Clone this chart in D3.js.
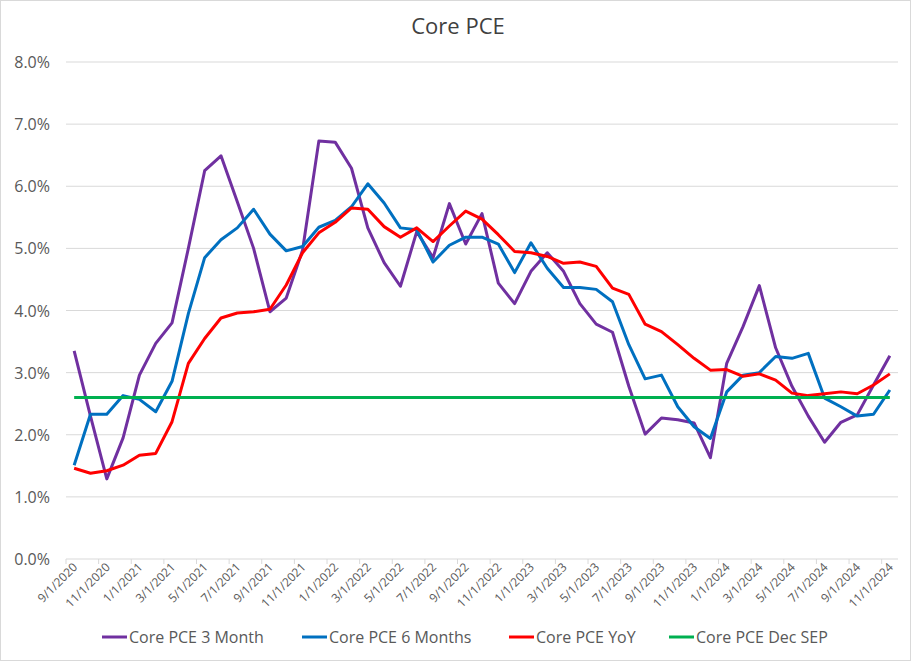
<!DOCTYPE html>
<html>
<head>
<meta charset="utf-8">
<script src="https://cdn.jsdelivr.net/npm/d3@7"></script>
<style>
  body { margin: 0; background: #fff; }
  text { font-family: "Open Sans", "Noto Sans", sans-serif; }
</style>
</head>
<body>
<svg width="912" height="662"></svg>
<script>
// monthly dates, 9/1/2020 .. 11/1/2024
const months = [];
for (let i = 0; i < 51; i++) {
    const m = (8 + i) % 12 + 1, yr = 2020 + Math.floor((8 + i) / 12);
    months.push(m + "/1/" + yr);
}

const pce3m = [3.35, 2.3, 1.29, 1.95, 2.96, 3.47, 3.80, 5.0, 6.25, 6.49,
    5.75, 5.0, 3.98, 4.2, 4.97, 6.73, 6.71, 6.29, 5.33, 4.77,
    4.39, 5.27, 4.85, 5.72, 5.07, 5.56, 4.44, 4.11, 4.63, 4.93,
    4.63, 4.11, 3.78, 3.65, 2.78, 2.01, 2.27, 2.24, 2.19, 1.63,
    3.15, 3.74, 4.40, 3.40, 2.78, 2.30, 1.88, 2.2, 2.32, 2.8, 3.27];

const pce6m = [1.51, 2.33, 2.33, 2.63, 2.57, 2.37, 2.86, 3.95, 4.85, 5.14,
    5.33, 5.63, 5.23, 4.96, 5.03, 5.34, 5.45, 5.67, 6.04, 5.73,
    5.33, 5.30, 4.78, 5.05, 5.18, 5.18, 5.07, 4.61, 5.09, 4.68,
    4.37, 4.37, 4.34, 4.14, 3.45, 2.90, 2.96, 2.45, 2.13, 1.94,
    2.69, 2.96, 3.0, 3.26, 3.23, 3.31, 2.59, 2.45, 2.30, 2.33, 2.72];

const pceYoY = [1.46, 1.38, 1.42, 1.51, 1.67, 1.70, 2.21, 3.15, 3.55, 3.88,
    3.96, 3.98, 4.02, 4.41, 4.93, 5.25, 5.42, 5.65, 5.63, 5.35,
    5.18, 5.33, 5.11, 5.36, 5.60, 5.47, 5.22, 4.95, 4.93, 4.87,
    4.76, 4.78, 4.71, 4.36, 4.26, 3.78, 3.66, 3.45, 3.23, 3.04,
    3.05, 2.94, 2.98, 2.88, 2.67, 2.63, 2.66, 2.69, 2.66, 2.80, 2.98];

const decSep = months.map(() => 2.6);

const yTicks = [0, 1, 2, 3, 4, 5, 6, 7, 8];

const series = [
    {name: "Core PCE 3 Month", values: pce3m, color: "#7030A0"},
    {name: "Core PCE 6 Months", values: pce6m, color: "#0070C0"},
    {name: "Core PCE YoY", values: pceYoY, color: "#FF0000"},
    {name: "Core PCE Dec SEP", values: decSep, color: "#00B050"}
];

const svg = d3.select("svg");
const W = 912, H = 662;
const plotL = 66, plotR = 898, plotT = 62, plotB = 559;

svg.append("rect")
    .attr("x", 0.5).attr("y", 0.5)
    .attr("width", W - 2).attr("height", H - 2)
    .attr("fill", "#fff").attr("stroke", "#d9d9d9");

const x = d3.scalePoint().domain(months).range([plotL, plotR]).padding(0.5);
const y = d3.scaleLinear().domain([0, 8]).range([plotB, plotT]);

// gridlines
svg.append("g")
    .selectAll("line")
    .data(yTicks.slice(1))
    .enter()
    .append("line")
    .attr("x1", plotL).attr("x2", plotR)
    .attr("y1", d => y(d)).attr("y2", d => y(d))
    .attr("stroke", "#d9d9d9").attr("stroke-width", 1);

// y labels
svg.append("g")
    .selectAll("text")
    .data(yTicks)
    .enter()
    .append("text")
    .attr("x", 50)
    .attr("y", d => y(d) + 6)
    .attr("text-anchor", "end")
    .attr("font-size", 16)
    .attr("fill", "#595959")
    .text(d => d.toFixed(1) + "%");

// x axis line and ticks
svg.append("line")
    .attr("x1", plotL).attr("x2", plotR)
    .attr("y1", plotB).attr("y2", plotB)
    .attr("stroke", "#d9d9d9");

const step = x.step();
const tickIdx = d3.range(0, months.length + 1, 2);
svg.append("g")
    .selectAll("line")
    .data(tickIdx)
    .enter()
    .append("line")
    .attr("x1", d => plotL + d * step).attr("x2", d => plotL + d * step)
    .attr("y1", plotB).attr("y2", plotB + 5)
    .attr("stroke", "#d9d9d9");

svg.append("g")
    .selectAll("text")
    .data(months.filter((d, i) => i % 2 === 0))
    .enter()
    .append("text")
    .attr("transform", d => `translate(${x(d) + 4},${plotB + 9}) rotate(-45)`)
    .attr("text-anchor", "end")
    .attr("font-size", 12)
    .attr("fill", "#595959")
    .text(d => d);

// lines
const line = d3.line()
    .x((d, i) => x(months[i]))
    .y(d => y(d));

svg.append("g")
    .selectAll("path")
    .data(series)
    .enter()
    .append("path")
    .attr("d", d => line(d.values))
    .attr("fill", "none")
    .attr("stroke", d => d.color)
    .attr("stroke-width", 3)
    .attr("stroke-linejoin", "round");

// title
svg.append("text")
    .attr("x", 458).attr("y", 34)
    .attr("text-anchor", "middle")
    .attr("font-size", 22)
    .attr("fill", "#404040")
    .text("Core PCE");

// legend
const legendX = [102, 302, 509, 669];
const lg = svg.append("g")
    .selectAll("g")
    .data(series)
    .enter()
    .append("g")
    .attr("transform", (d, i) => `translate(${legendX[i]},637)`);

lg.append("line")
    .attr("x1", 0).attr("x2", 25)
    .attr("stroke", d => d.color)
    .attr("stroke-width", 3);

lg.append("text")
    .attr("x", 27).attr("y", 6)
    .attr("font-size", 16)
    .attr("fill", "#595959")
    .text(d => d.name);
</script>
</body>
</html>
